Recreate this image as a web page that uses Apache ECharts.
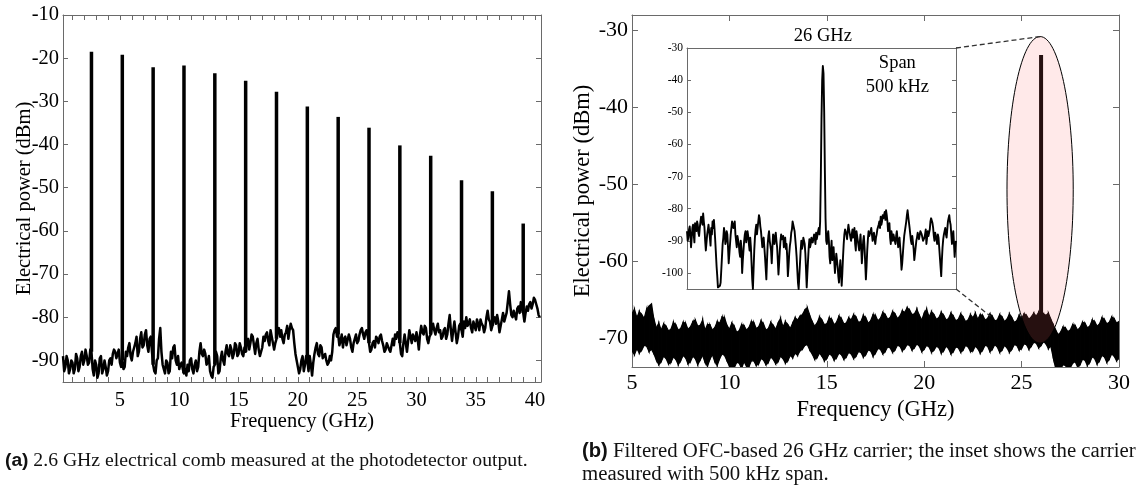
<!DOCTYPE html>
<html>
<head>
<meta charset="utf-8">
<title>Electrical comb and filtered 26 GHz carrier</title>
<script src="https://cdn.jsdelivr.net/npm/echarts@6/dist/echarts.min.js"></script>
<style>
  html, body { margin: 0; padding: 0; background: #fff; }
  #fig { width: 1145px; height: 485px; }
</style>
</head>
<body>
<div id="fig"></div>
<script>
// ---------- (a) 2.6 GHz electrical comb ----------
const combFreq = [2.6, 5.2, 7.8, 10.4, 13.0, 15.6, 18.2, 20.8, 23.4, 26.0, 28.6, 31.2, 33.8, 36.4, 39.0];
const combPeak = [-18.5, -19.2, -22.1, -21.7, -23.5, -25.2, -27.8, -31.2, -33.6, -36.1, -40.2, -42.6, -48.3, -50.8, -58.3];
// noise floor, one value every 0.1 GHz from 0.2 GHz to 40.4 GHz
const floorStart = 0.2, floorStep = 0.1;
const floorA = [
  -89, -92.5, -91.5, -89, -90, -93, -92, -90, -90.5, -93, -92, -88.5, -89.5, -92.5, -91.5, -89, -88, -91, -90, -87.5,
  -89, -91, -90.5, -87.5, -88, -92, -93.5, -90, -91, -94, -93, -89.5, -89, -93, -92, -90, -91.5, -93.5, -92.5, -90,
  -89.5, -91, -88.5, -87.5, -88, -89.5, -88.5, -87.5, -90.5, -91.5, -90, -92, -91.5, -88, -89, -87, -86, -89, -90, -88,
  -87, -86, -84.5, -89, -88, -85, -83.5, -87, -86.5, -84, -83, -86.5, -88, -85, -84.5, -88, -91, -92.5, -93, -90,
  -89.5, -85, -82.5, -88, -91, -92, -93, -90, -90.5, -93, -92.5, -88, -89.5, -87, -86.5, -90, -91, -89, -92, -91,
  -90.5, -92, -93, -92, -93.5, -91, -92.5, -90, -89.5, -92, -93, -91, -90, -92.5, -91.5, -88, -86, -88.5, -89, -87.5,
  -88.5, -91, -90.5, -89, -92.5, -93.5, -94, -91.5, -91, -88, -89, -93, -92.5, -89.5, -88, -90, -91, -88, -86.5, -88.5,
  -89, -86.5, -87.5, -89.5, -88.5, -86, -86.5, -89, -88.5, -86, -87, -88.5, -89, -87, -88, -85.5, -85, -87.5, -86, -84,
  -84.5, -86.5, -88.5, -86, -85, -87.5, -89, -88, -87, -84.5, -85.5, -84, -83.5, -85.5, -86.5, -83, -84.5, -86, -87.5, -86,
  -85, -83, -82.5, -84.5, -83, -85, -86, -84, -83.5, -82, -85, -83, -81.5, -82.5, -83, -86, -88.5, -90, -91.5, -93,
  -92, -90, -89, -92.5, -91, -89, -90, -92.5, -89, -91, -93.5, -90.5, -88.5, -87, -86, -88.5, -89, -86.5, -87, -89.5,
  -89.5, -88.5, -90, -91, -90.5, -89, -90, -88, -84, -83, -82.5, -84.5, -84, -86.5, -85.5, -84, -87, -85, -84.5, -86.5,
  -86.5, -84, -85, -87, -88, -86, -85, -84, -86, -85.5, -84, -83, -82.5, -84, -85, -83.5, -83, -84.5, -86, -88,
  -87.5, -86, -85.5, -87, -84.5, -85, -86, -84.5, -84, -85.5, -86.5, -88, -87.5, -86, -86, -87.5, -88, -86.5, -85, -86.5,
  -84, -85, -83.5, -84, -86, -88.5, -89, -86, -84, -86, -88, -85.5, -83, -84.5, -86, -84, -84, -85.5, -83.5, -85,
  -87.5, -84, -82, -83.5, -84, -82, -82.5, -85, -86, -84.5, -84, -82.5, -81.5, -83, -84, -82.5, -81.5, -83.5, -83, -85,
  -84.5, -83, -82.5, -85, -84, -81.5, -79.5, -83, -85.5, -83, -81, -83.5, -86, -84.5, -82, -81.5, -83, -84.5, -81, -82.5,
  -80, -82, -81.5, -80.5, -82.5, -83.5, -81, -82, -83, -80.5, -81.5, -83, -80.5, -81.5, -82, -83.5, -82.5, -80, -78.5, -80.5,
  -81, -83, -82, -80.5, -80, -81.5, -79.5, -81, -83.5, -82, -80.5, -79, -81, -80, -79, -76.5, -74, -77, -79.5, -80,
  -78.5, -79.5, -80.5, -78, -77.5, -79, -76.5, -78, -79, -81, -79, -77.5, -78.5, -77, -76.5, -78, -77, -75.5, -76, -77,
  -78, -79.5, -80
];
const freqLabelsA = [5, 10, 15, 20, 25, 30, 35, 40];
const powerLabelsA = [-90, -80, -70, -60, -50, -40, -30, -20, -10];

// ---------- (b) filtered 26 GHz carrier ----------
// upper / lower edge of the noise band, one value every 0.125 GHz from 5 to 30 GHz
const bandStart = 5, bandStep = 0.125;
const bandTop = [
  -66.8, -66.2, -67.3, -66.5, -66.9, -67.4, -66.2, -65.8, -65.5, -67.5, -68.6, -68.0, -68.9, -68.1, -68.4, -69.0, -68.8, -67.9, -68.2, -68.9,
  -68.7, -67.9, -68.0, -68.8, -68.5, -67.8, -67.6, -68.4, -68.3, -67.6, -68.9, -68.2, -68.2, -68.9, -68.6, -67.8, -68.0, -67.2, -67.3, -68.3,
  -68.8, -68.0, -68.4, -69.2, -69.0, -68.2, -68.3, -68.9, -68.6, -67.8, -67.9, -68.7, -68.5, -67.7, -68.1, -68.9, -68.7, -67.9, -68.3, -68.8,
  -68.0, -67.4, -68.5, -67.8, -68.2, -68.7, -68.0, -67.3, -67.6, -67.1, -66.9, -66.3, -66.0, -67.0, -67.8, -68.4, -68.0, -67.2, -67.6, -68.2,
  -68.1, -67.3, -67.5, -68.2, -67.9, -67.1, -67.4, -68.1, -68.0, -67.3, -67.6, -66.9, -67.2, -67.9, -67.8, -67.0, -67.3, -68.0, -67.7, -66.9,
  -67.0, -67.7, -67.4, -66.6, -66.9, -67.5, -67.3, -66.5, -66.8, -67.4, -67.1, -66.4, -66.6, -66.0, -66.3, -66.9, -66.8, -66.2, -67.0, -67.6,
  -66.7, -66.2, -67.2, -66.5, -66.9, -67.5, -67.3, -66.6, -67.0, -67.6, -67.4, -66.7, -67.1, -67.7, -67.5, -66.8, -67.2, -67.8, -67.6, -66.9,
  -67.3, -66.7, -67.5, -66.9, -67.0, -67.6, -67.4, -66.8, -67.1, -67.7, -67.6, -66.9, -67.2, -67.8, -67.5, -66.8, -67.3, -67.9, -67.7, -67.0,
  -67.4, -66.8, -67.0, -67.5, -67.2, -66.7, -67.1, -66.6, -67.3, -66.8, -67.0, -66.7, -67.5, -68.2, -68.9, -69.5, -69.2, -68.5, -68.6, -69.1,
  -68.9, -68.2, -68.3, -68.9, -68.6, -67.9, -68.0, -68.6, -68.4, -67.6, -67.8, -68.4, -68.1, -67.3, -67.5, -68.1, -67.9, -67.2, -67.4, -68.0,
  -67.8
];
const bandBottom = [
  -71.6, -72.1, -71.3, -71.9, -71.5, -70.9, -71.0, -71.7, -71.4, -72.0, -72.8, -73.4, -73.0, -72.3, -72.6, -73.3, -73.1, -72.4, -72.7, -73.4,
  -72.9, -72.2, -72.5, -73.3, -73.0, -72.3, -72.6, -73.4, -72.8, -72.2, -73.1, -73.6, -72.7, -72.1, -73.0, -73.5, -72.6, -72.0, -72.2, -72.9,
  -73.6, -74.0, -73.8, -73.1, -73.2, -73.9, -73.0, -73.6, -73.7, -72.9, -72.9, -73.5, -73.3, -72.6, -72.8, -73.4, -73.1, -72.4, -72.7, -73.3,
  -73.0, -72.3, -72.6, -73.2, -72.9, -72.2, -72.5, -71.9, -72.2, -71.6, -71.4, -70.9, -70.8, -71.5, -72.0, -72.7, -72.5, -71.9, -72.3, -72.9,
  -72.6, -72.0, -72.2, -72.8, -72.5, -71.9, -72.1, -72.7, -72.4, -71.8, -72.0, -72.6, -72.3, -71.7, -71.8, -72.4, -72.1, -71.5, -71.6, -72.3,
  -71.9, -71.3, -71.4, -72.0, -71.7, -71.1, -71.2, -71.8, -71.5, -70.9, -71.0, -71.6, -71.3, -70.8, -70.9, -71.5, -71.2, -70.7, -71.0, -71.7,
  -71.4, -70.9, -71.1, -71.8, -71.5, -71.0, -71.2, -71.9, -71.6, -71.0, -71.3, -72.0, -71.7, -71.1, -71.2, -71.8, -71.5, -70.9, -71.1, -71.7,
  -71.6, -71.0, -71.3, -71.9, -71.5, -70.9, -71.0, -71.7, -71.4, -70.8, -71.1, -71.8, -71.5, -70.9, -71.2, -71.8, -71.4, -70.8, -70.9, -71.5,
  -71.3, -70.7, -70.8, -71.4, -71.0, -70.5, -70.6, -71.2, -70.9, -70.4, -70.7, -71.3, -71.0, -72.5, -73.9, -74.2, -74.0, -73.4, -73.5, -74.1,
  -73.8, -73.2, -73.0, -73.7, -73.4, -72.7, -72.8, -73.5, -73.1, -72.4, -72.6, -73.3, -72.9, -72.2, -72.4, -73.1, -72.7, -72.0, -72.3, -72.9,
  -72.6
];
const carrierFreq = 26;
const carrierPeak = -33.2;
const freqLabelsB = [5, 10, 15, 20, 25, 30];
const powerLabelsB = [-70, -60, -50, -40, -30];

// ---------- inset: 500 kHz span, one value every 1.25 kHz from -250 to 250 kHz ----------
const insetPower = [
  -87, -90, -89, -86.5, -85.5, -88, -92, -89, -86, -85, -88, -90.5, -84.5, -86,
  -87, -84, -85, -87.5, -88.5, -86, -84, -82.5, -83.5, -85, -81.5, -84,
  -86, -90, -93, -90.5, -88, -86.5, -85, -87,
  -89, -91.5, -86, -88, -84, -86, -83.5, -86.5, -90, -94,
  -98, -101, -104.5, -105, -105, -104, -103, -99, -95, -91,
  -89, -86, -87.5, -91, -90, -87, -88, -92,
  -97, -94, -91, -88, -86, -84,
  -83.5, -86, -85.5, -84, -88, -90, -92, -88.5,
  -89, -91, -93.5, -95, -90, -92.5,
  -100, -96, -93, -90,
  -88, -87, -90.5, -89, -87, -88.5, -91, -93, -89, -92,
  -97, -102, -105, -99,
  -93, -89, -86.5, -85, -88, -86, -84, -82, -83, -85.5, -87, -89.5,
  -92, -90, -89, -92, -95, -98.5, -102, -96,
  -91, -88.5, -87, -90, -89.5, -93, -97, -92,
  -88, -89.5, -91, -88.5, -87.5, -90, -92, -96,
  -100.5, -97, -93, -90, -88, -89.5,
  -90, -88.5, -92, -90, -89, -92.5, -91, -95,
  -101, -98, -94, -91.5, -90, -87.5,
  -86.5, -84, -85, -86, -87, -89.5, -92, -95,
  -99, -103, -105, -101, -97, -93,
  -90, -92.5, -91.5, -89, -89, -91, -94, -99,
  -104.5, -100, -96, -92,
  -89.5, -92, -91, -89, -88.5, -90.5, -90, -88, -89, -91, -87.5, -89.5,
  -89, -87, -86, -88,
  -84, -70, -52, -40, -35.6, -38, -50, -68, -83, -90,
  -91, -88.5, -87, -90, -95, -97, -93, -90,
  -96, -94, -92, -96.5, -100, -97, -94, -96,
  -98, -101, -103, -99, -96, -100, -104, -100, -95, -91,
  -88, -86.5, -86, -88, -89.5, -87, -85, -86.5, -87, -89,
  -90, -88, -86.5, -89, -88, -86, -91, -93, -87, -88.5, -89, -91.5,
  -93, -90.5, -88, -92, -97, -93.5, -90, -88.5,
  -92, -97, -102, -98, -93, -89.5,
  -87, -88.5, -89, -87, -86, -88, -90, -88.5, -87.5, -89.5, -91, -89,
  -88, -86.5, -86, -85, -84, -86, -82.5, -85, -84, -82,
  -83, -82, -81, -83.5, -80.5, -82,
  -84, -87, -86, -84.5, -89, -91, -87, -88.5, -90, -88,
  -88, -90, -91, -88.5, -87, -89.5, -92, -90,
  -89, -92, -95, -99, -97, -94, -91, -88.5,
  -87, -85.5, -84, -82, -80.5, -82.5,
  -83, -86, -88, -90, -91, -88.5, -89, -92.5,
  -96, -94, -92, -90, -89, -87.5,
  -87, -89.5, -89, -87, -86.5, -88, -88, -90, -90.5, -89,
  -88, -86.5, -91, -89, -87, -88.5, -89, -86.5,
  -84, -83, -82.5, -84.5, -86, -88.5, -90, -87.5,
  -88, -89.5, -91, -88, -89, -92, -95, -98,
  -101, -96, -92, -89.5, -88, -87,
  -86, -88, -89, -86.5, -84, -83, -82, -84, -85, -88,
  -91, -89, -87, -91, -95, -92, -90
];
const insetLabels = [-100, -90, -80, -70, -60, -50, -40, -30];

// ellipse round the carrier and where the lower leader line meets the band
const oval = { freq: 25.95, power: -50.7, halfFreq: 1.7, halfPower: 19.9 };
const leaderEnd = [23.4, -67.1];

const SERIF = 'Liberation Serif';
const FRAME = '#6a6a6a';

const minorA = [];
for (let f = 1; f <= 40; f++) minorA.push(f);

const floorX = i => floorStart + floorStep * i;
const bandX = i => bandStart + bandStep * i;
const insetX = i => -250 + 500 * i / (insetPower.length - 1);

function frameLine() {
  return { show: true, onZero: false, lineStyle: { color: FRAME, width: 1 } };
}
function ticks(values, len) {
  return { show: true, inside: true, length: len, customValues: values, lineStyle: { color: FRAME, width: 1 } };
}
function labels(values, size, margin) {
  return { show: true, customValues: values, fontFamily: SERIF, fontSize: size, color: '#000', margin: margin };
}

const chart = echarts.init(document.getElementById('fig'));

const option = {
  animation: false,
  backgroundColor: '#fff',
  title: [
    {
      left: 5, top: 451, padding: 0,
      text: '{b|(a)} {t|2.6 GHz electrical comb measured at the photodetector output.}',
      textStyle: {
        fontFamily: SERIF, fontSize: 19.7, color: '#111', fontWeight: 'normal',
        rich: {
          b: { fontFamily: 'Liberation Sans', fontWeight: 'bold', fontSize: 19.2, color: '#111' },
          t: { fontFamily: SERIF, fontSize: 19.7, color: '#111' }
        }
      }
    },
    {
      left: 582, top: 440, padding: 0,
      text: '{b|(b)} {t|Filtered OFC-based 26 GHz carrier; the inset shows the carrier}\n{t|measured with 500 kHz span.}',
      textStyle: {
        fontFamily: SERIF, fontSize: 20.8, color: '#111', fontWeight: 'normal', lineHeight: 23,
        rich: {
          b: { fontFamily: 'Liberation Sans', fontWeight: 'bold', fontSize: 20.2, color: '#111', lineHeight: 23 },
          t: { fontFamily: SERIF, fontSize: 20.8, color: '#111', lineHeight: 23 }
        }
      }
    }
  ],
  grid: [
    { left: 63, top: 15, width: 478, height: 367, outerBoundsMode: 'none' },
    { left: 632, top: 15, width: 487, height: 352, outerBoundsMode: 'none' },
    { left: 687, top: 48, width: 269, height: 241, outerBoundsMode: 'none' }
  ],
  xAxis: [
    {
      type: 'value', gridIndex: 0, position: 'bottom', min: 0.2, max: 40.5,
      axisLine: frameLine(), axisTick: ticks(minorA, 5), axisLabel: labels(freqLabelsA, 20.5, 8),
      splitLine: { show: false },
      name: 'Frequency (GHz)', nameLocation: 'middle', nameGap: 29, nameMoveOverlap: false,
      nameTextStyle: { fontFamily: SERIF, fontSize: 20.5, color: '#000' }
    },
    {
      type: 'value', gridIndex: 0, position: 'top', min: 0.2, max: 40.5,
      axisLine: frameLine(), axisTick: ticks(minorA, 5), axisLabel: { show: false }, splitLine: { show: false }
    },
    {
      type: 'value', gridIndex: 1, position: 'bottom', min: 5, max: 30, interval: 5,
      axisLine: frameLine(), axisTick: ticks(freqLabelsB, 6), axisLabel: labels(freqLabelsB, 22, 5),
      splitLine: { show: false },
      name: 'Frequency (GHz)', nameLocation: 'middle', nameGap: 32, nameMoveOverlap: false,
      nameTextStyle: { fontFamily: SERIF, fontSize: 22.5, color: '#000' }
    },
    {
      type: 'value', gridIndex: 1, position: 'top', min: 5, max: 30, interval: 5,
      axisLine: frameLine(), axisTick: ticks(freqLabelsB, 6), axisLabel: { show: false }, splitLine: { show: false }
    },
    {
      type: 'value', gridIndex: 2, position: 'bottom', min: -250, max: 250,
      axisLine: frameLine(), axisTick: { show: false }, axisLabel: { show: false }, splitLine: { show: false }
    },
    {
      type: 'value', gridIndex: 2, position: 'top', min: -250, max: 250,
      axisLine: frameLine(), axisTick: { show: false }, axisLabel: { show: false }, splitLine: { show: false }
    }
  ],
  yAxis: [
    {
      type: 'value', gridIndex: 0, position: 'left', min: -95, max: -10,
      axisLine: frameLine(), axisTick: ticks(powerLabelsA, 5), axisLabel: labels(powerLabelsA, 20.5, 4),
      splitLine: { show: false },
      name: 'Electrical power (dBm)', nameLocation: 'middle', nameGap: 28, nameMoveOverlap: false,
      nameTextStyle: { fontFamily: SERIF, fontSize: 20.5, color: '#000' }
    },
    {
      type: 'value', gridIndex: 0, position: 'right', min: -95, max: -10,
      axisLine: frameLine(), axisTick: ticks(powerLabelsA, 5), axisLabel: { show: false }, splitLine: { show: false }
    },
    {
      type: 'value', gridIndex: 1, position: 'left', min: -73.7, max: -28,
      axisLine: frameLine(), axisTick: ticks(powerLabelsB, 6), axisLabel: labels(powerLabelsB, 22, 4),
      splitLine: { show: false },
      name: 'Electrical power (dBm)', nameLocation: 'middle', nameGap: 37, nameMoveOverlap: false,
      nameTextStyle: { fontFamily: SERIF, fontSize: 22.5, color: '#000' }
    },
    {
      type: 'value', gridIndex: 1, position: 'right', min: -73.7, max: -28,
      axisLine: frameLine(), axisTick: ticks(powerLabelsB, 6), axisLabel: { show: false }, splitLine: { show: false }
    },
    {
      type: 'value', gridIndex: 2, position: 'left', min: -105, max: -30,
      axisLine: frameLine(), axisTick: ticks(insetLabels, 4), axisLabel: labels(insetLabels, 11.5, 4),
      splitLine: { show: false }
    },
    {
      type: 'value', gridIndex: 2, position: 'right', min: -105, max: -30,
      axisLine: frameLine(), axisTick: ticks(insetLabels, 4), axisLabel: { show: false }, splitLine: { show: false }
    }
  ],
  series: [
    {
      name: 'comb floor', type: 'line', xAxisIndex: 0, yAxisIndex: 0,
      data: floorA.map((v, i) => [floorX(i), v]),
      symbol: 'none', silent: true, clip: true,
      lineStyle: { color: '#000', width: 2.5, join: 'round' }
    },
    {
      name: 'comb lines', type: 'custom', xAxisIndex: 0, yAxisIndex: 0, clip: true, silent: true,
      data: combFreq.map((f, k) => [f, floorA[Math.round((f - floorStart) / floorStep)], combPeak[k]]),
      encode: { x: 0, y: [1, 2] },
      renderItem: function (params, api) {
        const a = api.coord([api.value(0), api.value(1)]);
        const b = api.coord([api.value(0), api.value(2)]);
        return {
          type: 'line',
          shape: { x1: a[0], y1: a[1], x2: b[0], y2: b[1] },
          style: { stroke: '#000', lineWidth: 3.5, lineCap: 'butt' }
        };
      }
    },
    {
      name: 'band', type: 'custom', xAxisIndex: 2, yAxisIndex: 2, clip: true, silent: true,
      data: bandTop.map((hi, i) => [bandX(i), bandBottom[i], hi]),
      encode: { x: 0, y: [1, 2] },
      renderItem: function (params, api) {
        const i = params.dataIndex;
        if (i >= bandTop.length - 1) return null;
        const pts = [
          api.coord([bandX(i), bandTop[i]]), api.coord([bandX(i + 1), bandTop[i + 1]]),
          api.coord([bandX(i + 1), bandBottom[i + 1]]), api.coord([bandX(i), bandBottom[i]])
        ];
        return {
          type: 'polygon', shape: { points: pts },
          style: { fill: '#000', stroke: '#000', lineWidth: 1.2 }
        };
      }
    },
    {
      name: 'carrier', type: 'line', xAxisIndex: 2, yAxisIndex: 2,
      data: [[carrierFreq, bandTop[Math.round((carrierFreq - bandStart) / bandStep)]], [carrierFreq, carrierPeak]],
      symbol: 'none', silent: true,
      lineStyle: { color: '#000', width: 4, cap: 'butt' }
    },
    {
      name: 'inset', type: 'line', xAxisIndex: 4, yAxisIndex: 4,
      data: insetPower.map((v, i) => [insetX(i), v]),
      symbol: 'none', silent: true, clip: true,
      lineStyle: { color: '#000', width: 1.9, join: 'round' }
    }
  ]
};

chart.setOption(option);

// annotations placed through the grids' own scales
const px = (gi, p) => chart.convertToPixel({ gridIndex: gi }, p);
const c = px(1, [oval.freq, oval.power]);
const e = px(1, [oval.freq + oval.halfFreq, oval.power + oval.halfPower]);
const rx = e[0] - c[0], ry = c[1] - e[1];
const cornerTop = px(2, [250, -30]);
const cornerBottom = px(2, [250, -105]);
const lead = px(1, leaderEnd);
const tag26 = px(2, [2.5, -30]);
const spanAt = px(2, [141, -38.5]);
const dash = { stroke: '#333', lineWidth: 1.3, lineDash: [5, 3] };

chart.setOption({
  graphic: [
    {
      type: 'ellipse', z: 100, silent: true,
      shape: { cx: c[0], cy: c[1], rx: rx, ry: ry },
      style: { fill: 'rgba(255,110,110,0.15)', stroke: '#000', lineWidth: 1 }
    },
    {
      type: 'line', z: 100, silent: true,
      shape: { x1: cornerTop[0], y1: cornerTop[1], x2: c[0], y2: c[1] - ry },
      style: dash
    },
    {
      type: 'line', z: 100, silent: true,
      shape: { x1: cornerBottom[0], y1: cornerBottom[1], x2: lead[0], y2: lead[1] },
      style: dash
    },
    {
      type: 'text', z: 100, silent: true, x: tag26[0], y: tag26[1] - 12,
      style: {
        text: '26 GHz', fill: '#000', font: '18.5px "Liberation Serif"',
        align: 'center', verticalAlign: 'middle', textAlign: 'center', textVerticalAlign: 'middle'
      }
    },
    {
      type: 'text', z: 100, silent: true, x: spanAt[0], y: spanAt[1],
      style: {
        text: 'Span\n500 kHz', fill: '#000', font: '18.5px "Liberation Serif"', lineHeight: 24,
        align: 'center', verticalAlign: 'middle', textAlign: 'center', textVerticalAlign: 'middle'
      }
    }
  ]
});
</script>
</body>
</html>
